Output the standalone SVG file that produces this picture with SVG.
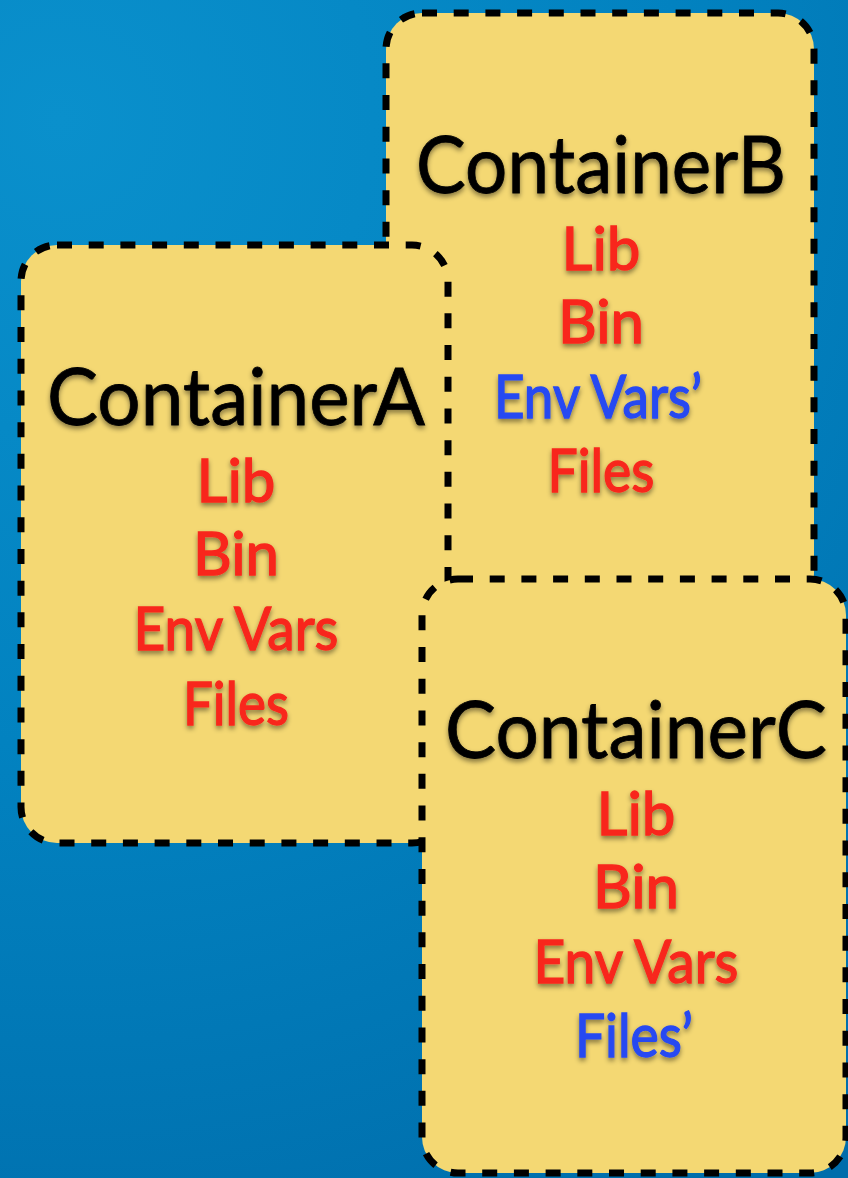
<svg xmlns="http://www.w3.org/2000/svg" width="848" height="1178" viewBox="0 0 848 1178">
  <defs>
    <radialGradient id="bg" cx="60" cy="120" r="1250" gradientUnits="userSpaceOnUse">
      <stop offset="0" stop-color="#0a90cc"/>
      <stop offset="0.5" stop-color="#0282c0"/>
      <stop offset="1" stop-color="#006dab"/>
    </radialGradient>
    <filter id="shadow" x="-10%" y="-20%" width="120%" height="150%">
      <feDropShadow dx="0" dy="3" stdDeviation="2.5" flood-color="#000" flood-opacity="0.45"/>
    </filter>
  </defs>
  <style>
    .box { fill: #f4d873; stroke: #000; stroke-width: 7; stroke-dasharray: 15 16.7; }
    .title { font-family: "Lato", "Liberation Sans", sans-serif; font-size: 80px; fill: #000; stroke: #000; stroke-width: 0.8; text-anchor: middle; filter: url(#shadow); }
    .item { font-family: "Lato", "Liberation Sans", sans-serif; font-size: 60px; stroke-width: 1.4; text-anchor: middle; filter: url(#shadow); }
    .red { fill: #f8281c; stroke: #f8281c; }
    .blue { fill: #2649f2; stroke: #2649f2; }
  </style>
  <rect x="0" y="0" width="848" height="1178" fill="url(#bg)"/>

  <g id="container-b">
    <rect class="box" x="386" y="13" width="428" height="597" rx="36" ry="36"/>
    <text class="title" x="601" y="193" textLength="370" lengthAdjust="spacingAndGlyphs">ContainerB</text>
    <text class="item red" x="601" y="270">Lib</text>
    <text class="item red" x="601" y="343">Bin</text>
    <text class="item blue" x="598" y="418" textLength="208" lengthAdjust="spacingAndGlyphs">Env Vars’</text>
    <text class="item red" x="601" y="492" textLength="107" lengthAdjust="spacingAndGlyphs">Files</text>
  </g>

  <g id="container-a">
    <rect class="box" x="21" y="245" width="427" height="598" rx="36" ry="36"/>
    <text class="title" x="236" y="425" textLength="378" lengthAdjust="spacingAndGlyphs">ContainerA</text>
    <text class="item red" x="236" y="502">Lib</text>
    <text class="item red" x="236" y="575">Bin</text>
    <text class="item red" x="236" y="650" textLength="205" lengthAdjust="spacingAndGlyphs">Env Vars</text>
    <text class="item red" x="236" y="725" textLength="106" lengthAdjust="spacingAndGlyphs">Files</text>
  </g>

  <g id="container-c">
    <rect class="box" x="422" y="579" width="424" height="594" rx="36" ry="36"/>
    <text class="title" x="636" y="758" textLength="382" lengthAdjust="spacingAndGlyphs">ContainerC</text>
    <text class="item red" x="636" y="835">Lib</text>
    <text class="item red" x="636" y="908">Bin</text>
    <text class="item red" x="636" y="983" textLength="205" lengthAdjust="spacingAndGlyphs">Env Vars</text>
    <text class="item blue" x="634" y="1057" textLength="118" lengthAdjust="spacingAndGlyphs">Files’</text>
  </g>

  <g id="connectors"/>
</svg>
